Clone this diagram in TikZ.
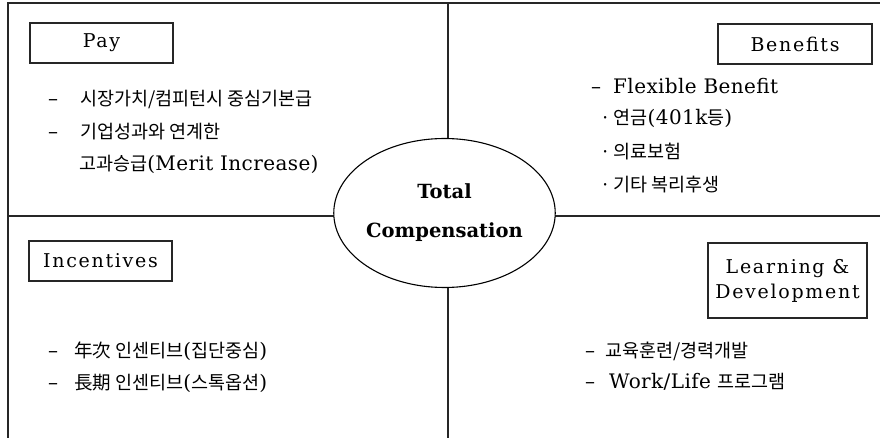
\documentclass[tikz,border=0pt]{standalone}
\usepackage{fontspec}
\usetikzlibrary{shapes.geometric}
\setmainfont{DejaVu Serif}
\newfontfamily\krfont{Noto Sans CJK KR}
\newfontfamily\lat[LetterSpace=2]{DejaVu Serif}
\newfontfamily\boxlat[LetterSpace=9]{DejaVu Serif}
\newfontfamily\heavy{DejaVu Serif}
\newcommand\kt[1]{{\fontsize{18.5}{22}\selectfont\krfont #1}}
\newcommand\dsh[1]{–\hspace*{#1}}
\tikzset{
  frame/.style={line width=1.3pt, black!85},
  catbox/.style={draw, line width=1.1pt, black!85, text=black, inner sep=0pt, align=center,
    font=\fontsize{19}{25}\selectfont\boxlat},
  item/.style={anchor=west, inner sep=0pt, font=\fontsize{20}{24}\selectfont\lat},
  hub/.style={ellipse, draw, line width=1.1pt, fill=white, inner sep=0pt,
    minimum width=195pt, minimum height=149pt, align=center,
    font=\fontsize{19.5}{39}\selectfont\heavy\bfseries}
}
\begin{document}
\begin{tikzpicture}[x=1pt,y=-1pt]
\useasboundingbox (0,0) rectangle (880,438);
% frame
\coordinate (tl) at (8,3);
\coordinate (tr) at (880,3);
\coordinate (bl) at (8,438);
\coordinate (tm) at (448,3);
\coordinate (bm) at (448,438);
\coordinate (ml) at (8,216);
\coordinate (mr) at (880,216);
\draw[frame] (tr) -- (tl) -- (bl);
\draw[frame] (tm) -- (bm);
\draw[frame] (ml) -- (mr);
% hub
\node[hub] (hub) at (444.5,213) {Total\\Compensation};
% category boxes
\node[catbox, minimum width=143pt, minimum height=40pt] (pay) at (101.5,43) {Pay};
\node[catbox, minimum width=154pt, minimum height=40pt] (ben) at (795,44) {Benefits};
\node[catbox, minimum width=143pt, minimum height=40pt] (inc) at (100.5,261) {Incentives};
\node[catbox, minimum width=159pt, minimum height=75pt] (ld) at (787.5,280.5) {Learning \&\\Development};
% Pay items
\node[item] (p1) at (48,100) {\dsh{22pt}\kt{시장가치/컴피턴시 중심기본급}};
\node[item] (p2) at (48,132) {\dsh{22pt}\kt{기업성과와 연계한}};
\node[item] (p3) at (79,164) {\kt{고과승급}(Merit Increase)};
% Benefits items
\node[item] (b1) at (591,86) {\dsh{12pt}Flexible Benefit};
\node[item] (b2) at (600,118) {\kt{·\,연금}(401k\kt{등})};
\node[item] (b3) at (600,152) {\kt{·\,의료보험}};
\node[item] (b4) at (600,185) {\kt{·\,기타 복리후생}};
% Incentives items
\node[item] (i1) at (48,351) {\dsh{16pt}\kt{年次 인센티브}(\kt{집단중심})};
\node[item] (i2) at (48,383) {\dsh{16pt}\kt{長期 인센티브}(\kt{스톡옵션})};
% L&D items
\node[item] (l1) at (585,351) {\dsh{10pt}\kt{교육훈련/경력개발}};
\node[item] (l2) at (585,382) {\dsh{14pt}Work/Life \kt{프로그램}};
\end{tikzpicture}
\end{document}
